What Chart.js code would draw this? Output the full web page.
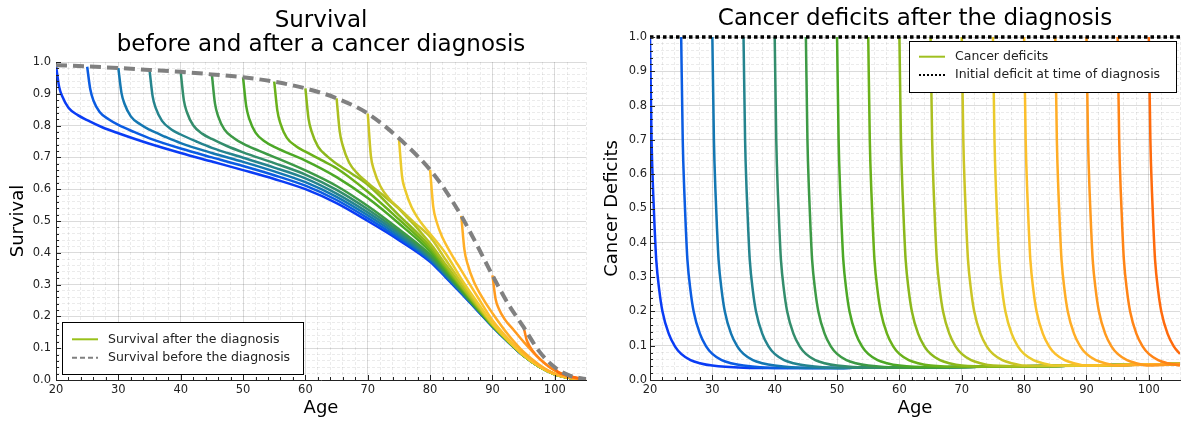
<!DOCTYPE html>
<html>
<head>
<meta charset="utf-8">
<script src="https://cdn.jsdelivr.net/npm/chart.js@4.4.1/dist/chart.umd.min.js"></script>
<style>
  body { margin: 0; background: #fff; }
  #wrap { display: flex; width: 1183px; height: 421px; }
  canvas { display: block; }
</style>
</head>
<body>
<div id="wrap">
  <canvas id="survivalChart" width="596" height="421"></canvas>
  <canvas id="deficitChart" width="587" height="421"></canvas>
</div>
<script>
// age at diagnosis, one curve each
const diagnosisAges = [20, 25, 30, 35, 40, 45, 50, 55, 60, 65, 70, 75, 80, 85, 90, 95, 100];

// survival before the diagnosis (grey dashed)
const beforeAges = [20, 25, 30, 35, 40, 45, 50, 55, 60, 65, 70, 75, 80, 82.5, 85, 87.5, 90, 92.5, 95, 97.5, 100, 102.5, 105];
const survivalBefore = [0.990, 0.986, 0.981, 0.975, 0.969, 0.961, 0.952, 0.938, 0.917, 0.886, 0.838, 0.760, 0.661, 0.595, 0.516, 0.425, 0.329, 0.240, 0.166, 0.090, 0.040, 0.013, 0.003];

// survival after the diagnosis: first points at these years after diagnosis,
// then at the later ages below
const earlyOffsets = [0, 0.5, 1, 2, 3.5, 5, 7.5];
const lateAges = [30, 35, 40, 45, 50, 55, 60, 65, 70, 75, 80, 82.5, 85, 87.5, 90, 92.5, 95, 97.5, 100, 102.5, 105];

const after20 = [0.990, 0.922, 0.892, 0.856, 0.833, 0.817, 0.794, 0.776, 0.743, 0.714, 0.687, 0.660, 0.632, 0.600, 0.556, 0.500, 0.440, 0.372, 0.323, 0.272, 0.220, 0.168, 0.120, 0.076, 0.042, 0.018, 0.006, 0.001];
const after25 = [0.985, 0.914, 0.879, 0.843, 0.819, 0.802, 0.780, 0.760, 0.728, 0.700, 0.673, 0.644, 0.611, 0.566, 0.509, 0.446, 0.376, 0.326, 0.274, 0.221, 0.168, 0.120, 0.076, 0.042, 0.018, 0.006, 0.001];
const after30 = [0.981, 0.903, 0.868, 0.829, 0.804, 0.787, 0.765, 0.745, 0.714, 0.686, 0.656, 0.622, 0.576, 0.518, 0.453, 0.380, 0.329, 0.276, 0.222, 0.169, 0.121, 0.076, 0.042, 0.018, 0.006, 0.001];
const after35 = [0.975, 0.892, 0.855, 0.815, 0.788, 0.772, 0.750, 0.730, 0.699, 0.668, 0.634, 0.586, 0.527, 0.460, 0.384, 0.332, 0.278, 0.223, 0.169, 0.121, 0.076, 0.042, 0.018, 0.006, 0.001];
const after40 = [0.969, 0.880, 0.842, 0.801, 0.774, 0.758, 0.735, 0.716, 0.682, 0.646, 0.598, 0.537, 0.467, 0.389, 0.336, 0.280, 0.224, 0.170, 0.121, 0.076, 0.042, 0.018, 0.006, 0.001];
const after45 = [0.961, 0.869, 0.830, 0.788, 0.761, 0.743, 0.721, 0.701, 0.659, 0.610, 0.547, 0.474, 0.394, 0.339, 0.282, 0.225, 0.170, 0.121, 0.076, 0.042, 0.018, 0.006, 0.001];
const after50 = [0.952, 0.862, 0.821, 0.778, 0.750, 0.733, 0.711, 0.690, 0.638, 0.572, 0.492, 0.404, 0.345, 0.287, 0.228, 0.171, 0.122, 0.077, 0.042, 0.018, 0.006, 0.001];
const after55 = [0.938, 0.847, 0.806, 0.762, 0.735, 0.718, 0.692, 0.666, 0.592, 0.505, 0.412, 0.351, 0.290, 0.230, 0.172, 0.122, 0.077, 0.042, 0.018, 0.006, 0.001];
const after60 = [0.917, 0.822, 0.781, 0.735, 0.703, 0.680, 0.648, 0.614, 0.518, 0.420, 0.357, 0.294, 0.232, 0.173, 0.123, 0.077, 0.042, 0.018, 0.006, 0.001];
const after65 = [0.886, 0.782, 0.736, 0.684, 0.646, 0.620, 0.580, 0.538, 0.430, 0.363, 0.298, 0.235, 0.174, 0.123, 0.077, 0.042, 0.018, 0.006, 0.001];
const after70 = [0.838, 0.705, 0.660, 0.610, 0.568, 0.540, 0.494, 0.450, 0.378, 0.307, 0.240, 0.176, 0.124, 0.077, 0.042, 0.018, 0.006, 0.001];
const after75 = [0.760, 0.640, 0.598, 0.545, 0.496, 0.460, 0.398, 0.318, 0.246, 0.178, 0.125, 0.078, 0.043, 0.018, 0.006, 0.001];
const after80 = [0.661, 0.545, 0.500, 0.447, 0.393, 0.345, 0.265, 0.188, 0.130, 0.081, 0.044, 0.019, 0.006, 0.001];
const after85 = [0.516, 0.410, 0.365, 0.310, 0.255, 0.210, 0.143, 0.088, 0.048, 0.020, 0.007, 0.001];
const after90 = [0.329, 0.255, 0.225, 0.190, 0.155, 0.120, 0.068, 0.030, 0.010, 0.001];
const after95 = [0.166, 0.125, 0.105, 0.078, 0.050, 0.030, 0.010, 0.002];
const after100 = [0.038, 0.025, 0.020, 0.014, 0.007, 0.002];
const survivalAfter = [after20, after25, after30, after35, after40, after45, after50, after55, after60,
  after65, after70, after75, after80, after85, after90, after95, after100];

// cancer deficit vs years since diagnosis (same for every diagnosis age) ...
const deficitOffsets = [0, 0.25, 0.5, 0.75, 1, 1.5, 2, 3, 4, 5, 6.5, 8, 10];
const deficitShape = [1.0, 0.70, 0.55, 0.44, 0.35, 0.26, 0.20, 0.135, 0.098, 0.076, 0.058, 0.049, 0.042];
// ... and the slowly rising level it settles on
const floorAges = [35, 40, 45, 50, 55, 60, 65, 70, 75, 80, 85, 90, 95, 100, 105];
const deficitFloor = [0.036, 0.035, 0.035, 0.035, 0.036, 0.036, 0.037, 0.038, 0.039, 0.040, 0.041, 0.042, 0.044, 0.045, 0.047];

const initialDeficit = 1.0;

const curveColors = ['#0a3cf5', '#0b5ce2', '#1477b2', '#25848e', '#338d6c', '#3d9a46', '#4ca826', '#6ab11a',
  '#8bb81c', '#abbf20', '#cbc526', '#ebca2c', '#fcbf2b', '#ffad26', '#ff9a1f', '#ff8416', '#ff6a0c'];

Chart.defaults.font.family = "'DejaVu Sans', sans-serif";
Chart.defaults.color = '#222';

const MAJOR_GRID = 'rgba(0,0,0,0.14)';
const MINOR_GRID = 'rgba(0,0,0,0.08)';

function isTenth(v) { return Math.abs(v * 10 - Math.round(v * 10)) < 1e-6; }

function buildCurve(age, values, offsets, tailAges) {
  const last = offsets[offsets.length - 1];
  const xs = offsets.map(o => age + o).filter(x => x <= 105);
  tailAges.forEach(t => { if (t > age + last) xs.push(t); });
  return values.map((v, i) => ({ x: xs[i], y: v }));
}

function zip(xs, ys) { return ys.map((y, i) => ({ x: xs[i], y: y })); }

function ageAxis() {
  return {
    type: 'linear', min: 20, max: 105,
    afterFit: s => { s.height = 41; },
    ticks: {
      stepSize: 2, autoSkip: false, maxRotation: 0, padding: 3,
      font: { size: 11.5 }, color: '#222',
      callback: v => (v % 10 === 0 && v <= 100) ? String(v) : ''
    },
    grid: {
      drawTicks: false, lineWidth: 1,
      color: c => (c.tick && c.tick.value % 10 === 0) ? MAJOR_GRID : MINOR_GRID
    },
    border: {
      display: true, color: '#222', width: 1,
      dash: c => (c.tick && c.tick.value % 10 !== 0) ? [3, 2] : []
    },
    title: { display: true, text: 'Age', font: { size: 18 }, color: '#000', padding: { top: 0, bottom: 1.5 } }
  };
}

function valueAxis(width, label, titlePad, tickPad) {
  return {
    type: 'linear', min: 0, max: 1,
    afterFit: s => { s.width = width; },
    ticks: {
      stepSize: 0.02, autoSkip: false, padding: tickPad,
      font: { size: 11.5 }, color: '#222',
      callback: v => isTenth(v) ? v.toFixed(1) : ''
    },
    grid: {
      drawTicks: false, lineWidth: 1,
      color: c => (c.tick && isTenth(c.tick.value)) ? MAJOR_GRID : MINOR_GRID
    },
    border: {
      display: true, color: '#222', width: 1,
      dash: c => (c.tick && !isTenth(c.tick.value)) ? [3, 2] : []
    },
    title: { display: true, text: label, font: { size: 18 }, color: '#000', padding: { top: titlePad, bottom: 0 } }
  };
}

// small ticks pointing into the plot, like the original
const inwardTicks = {
  id: 'inwardTicks',
  afterDatasetsDraw(chart) {
    const { ctx, chartArea: a, scales: { x, y } } = chart;
    ctx.save();
    ctx.strokeStyle = '#222';
    ctx.lineWidth = 1;
    ctx.beginPath();
    x.ticks.forEach(t => {
      if (t.value >= 105) return;
      const px = Math.round(x.getPixelForValue(t.value)) + 0.5;
      const len = t.value % 10 === 0 ? 5 : 3;
      ctx.moveTo(px, a.bottom);
      ctx.lineTo(px, a.bottom - len);
    });
    y.ticks.forEach(t => {
      const py = Math.round(y.getPixelForValue(t.value)) + 0.5;
      const len = isTenth(t.value) ? 5 : 3;
      ctx.moveTo(a.left, py);
      ctx.lineTo(a.left + len, py);
    });
    ctx.stroke();
    ctx.restore();
  }
};

// boxed legend placed inside the plot
const boxLegend = {
  id: 'boxLegend',
  afterDraw(chart, args, opts) {
    const ctx = chart.ctx;
    ctx.save();
    ctx.fillStyle = '#fff';
    ctx.fillRect(opts.x, opts.y, opts.w, opts.h);
    ctx.strokeStyle = '#000';
    ctx.lineWidth = 1;
    ctx.strokeRect(opts.x + 0.5, opts.y + 0.5, opts.w, opts.h);
    ctx.font = "12.5px 'DejaVu Sans'";
    ctx.textBaseline = 'middle';
    opts.items.forEach((it, i) => {
      const ly = opts.y + opts.rowTop + i * opts.rowGap;
      ctx.beginPath();
      ctx.setLineDash(it.dash || []);
      ctx.strokeStyle = it.color;
      ctx.lineWidth = it.width;
      ctx.moveTo(opts.x + 10, ly);
      ctx.lineTo(opts.x + 36, ly);
      ctx.stroke();
      ctx.setLineDash([]);
      ctx.fillStyle = '#222';
      ctx.fillText(it.text, opts.x + 46, ly);
    });
    ctx.restore();
  }
};

const survivalDatasets = diagnosisAges.map((age, i) => ({
  label: 'Survival after the diagnosis',
  data: buildCurve(age, survivalAfter[i], earlyOffsets, lateAges),
  borderColor: curveColors[i],
  borderWidth: 2.5,
  pointRadius: 0,
  cubicInterpolationMode: 'monotone',
  order: 100 - i
}));
survivalDatasets.push({
  label: 'Survival before the diagnosis',
  data: zip(beforeAges, survivalBefore),
  borderColor: '#808080',
  borderWidth: 4,
  borderDash: [11, 6],
  pointRadius: 0,
  cubicInterpolationMode: 'monotone',
  order: 0
});

new Chart(document.getElementById('survivalChart'), {
  type: 'line',
  data: { datasets: survivalDatasets },
  options: {
    responsive: false,
    animation: false,
    devicePixelRatio: 1,
    events: [],
    layout: { padding: { left: 0, right: 10, top: 0, bottom: 0 } },
    scales: {
      x: ageAxis(),
      y: valueAxis(56, 'Survival', 7.6, 5)
    },
    plugins: {
      legend: { display: false },
      tooltip: { enabled: false },
      title: {
        display: true,
        fullSize: false,
        text: ['Survival', 'before and after a cancer diagnosis'],
        font: { size: 23, weight: 'normal', lineHeight: 24 / 23 },
        color: '#000',
        padding: { top: 9.5, bottom: 4.5 }
      },
      boxLegend: {
        x: 62, y: 322, w: 241, h: 52, rowTop: 17.3, rowGap: 18.4,
        items: [
          { text: 'Survival after the diagnosis', color: '#99c11a', width: 2 },
          { text: 'Survival before the diagnosis', color: '#808080', width: 2, dash: [5, 3] }
        ]
      }
    }
  },
  plugins: [inwardTicks, boxLegend]
});

const deficitDatasets = diagnosisAges.map((age, i) => {
  const pts = deficitOffsets.map((o, k) => ({ x: age + o, y: deficitShape[k] })).filter(p => p.x <= 105);
  floorAges.forEach((t, k) => { if (t > age + 10) pts.push({ x: t, y: deficitFloor[k] }); });
  return {
    label: 'Cancer deficits',
    data: pts,
    borderColor: curveColors[i],
    borderWidth: 2.5,
    pointRadius: 0,
    cubicInterpolationMode: 'monotone',
    order: 100 - i
  };
});
deficitDatasets.push({
  label: 'Initial deficit at time of diagnosis',
  data: [{ x: 20, y: initialDeficit }, { x: 105, y: initialDeficit }],
  borderColor: '#000',
  borderWidth: 3.5,
  borderDash: [3.5, 3],
  pointRadius: 0,
  clip: 6,
  order: 0
});

new Chart(document.getElementById('deficitChart'), {
  type: 'line',
  data: { datasets: deficitDatasets },
  options: {
    responsive: false,
    animation: false,
    devicePixelRatio: 1,
    events: [],
    layout: { padding: { left: 0, right: 1, top: 0, bottom: 0 } },
    scales: {
      x: ageAxis(),
      y: valueAxis(54, 'Cancer Deficits', 5.2, 3)
    },
    plugins: {
      legend: { display: false },
      tooltip: { enabled: false },
      title: {
        display: true,
        fullSize: false,
        text: 'Cancer deficits after the diagnosis',
        font: { size: 23, weight: 'normal', lineHeight: 24 / 23 },
        color: '#000',
        padding: { top: 7.5, bottom: 5.5 }
      },
      boxLegend: {
        x: 313, y: 41, w: 267, h: 51, rowTop: 15.7, rowGap: 18.3,
        items: [
          { text: 'Cancer deficits', color: '#a0c020', width: 2 },
          { text: 'Initial deficit at time of diagnosis', color: '#000', width: 2, dash: [2, 2] }
        ]
      }
    }
  },
  plugins: [inwardTicks, boxLegend]
});
</script>
</body>
</html>
